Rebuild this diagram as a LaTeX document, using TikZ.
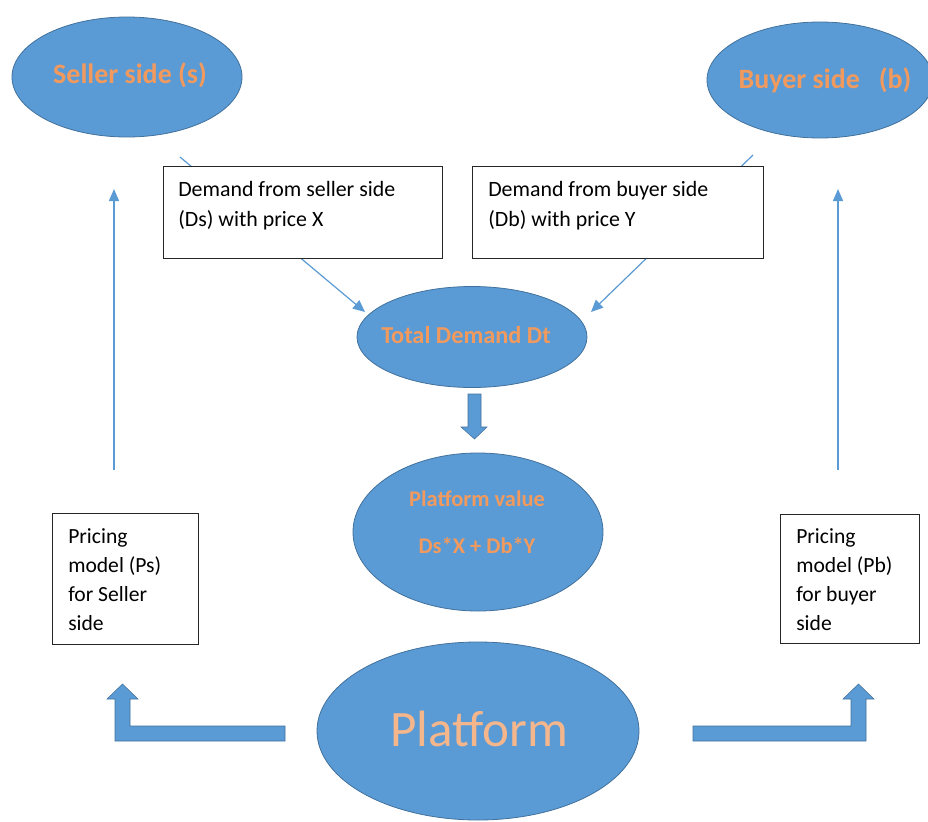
\documentclass[tikz,border=0pt]{standalone}
\usepackage{fontspec}
\setmainfont{Carlito}
\usetikzlibrary{shapes.geometric,arrows.meta,calc}
\newlength\px
\setlength\px{0.75pt}
\definecolor{fillblue}{HTML}{5B9BD5}
\definecolor{edgeblue}{HTML}{41719C}
\definecolor{txtorange}{HTML}{F29A5E}
\definecolor{lightorange}{HTML}{F6B68C}
\tikzset{
  ell/.style={ellipse, fill=fillblue, draw=edgeblue, line width=0.6pt, inner sep=0pt},
  ttl/.style={text=txtorange, font=\bfseries\fontsize{21pt}{25pt}\selectfont, inner sep=0pt},
  midttl/.style={text=txtorange, font=\bfseries\fontsize{18.25pt}{21pt}\selectfont, inner sep=0pt},
  pvttl/.style={text=txtorange, font=\bfseries\fontsize{16.8pt}{35.25pt}\selectfont, inner sep=0pt, align=center},
  bigttl/.style={text=lightorange, font=\fontsize{38.3pt}{40pt}\selectfont, inner sep=0pt},
  boxnode/.style={draw=black!85, line width=0.9pt, fill=white, anchor=north west, inner sep=0pt},
  boxtext/.style={anchor=north west, inner sep=0pt, align=left, font=\fontsize{16.4pt}{22.5pt}\selectfont},
  pricetext/.style={anchor=north west, inner sep=0pt, align=left, font=\fontsize{16.2pt}{21.8pt}\selectfont},
  thin/.style={draw=fillblue, line width=1.1pt, -{Triangle[length=9pt,width=7.5pt]}},
  block/.style={fill=fillblue, draw=edgeblue, line width=0.4pt}
}
\begin{document}
\begin{tikzpicture}[x=0.75pt,y=-0.75pt]
\useasboundingbox (0,0) rectangle (928,821);
\fill[white] (0,0) rectangle (928,821);

% free ends of the diagonal connectors
\coordinate (sEnd) at (180,157);
\coordinate (bEnd) at (753,155);

% ellipses
\node[ell, minimum width=230\px, minimum height=120\px] (seller) at (127,77) {};
\node[ttl] (sellerT) at (130,75) {Seller side (s)};
\node[ell, minimum width=226\px, minimum height=116\px] (buyer) at (820,80) {};
\node[ttl] (buyerT) at (825,80) {Buyer side~~~(b)};
\node[ell, minimum width=230\px, minimum height=101\px] (total) at (472,337) {};
\node[midttl] (totalT) at (466,335) {Total Demand Dt};
\node[ell, minimum width=250\px, minimum height=158\px] (pvalue) at (478,532) {};
\node[pvttl] (pvalueT) at (477,522) {Platform value\\Ds*X + Db*Y};
\node[ell, minimum width=322\px, minimum height=178\px] (platform) at (478,731) {};
\node[bigttl] (platformT) at (479,729) {Platform};

% diagonal arrows into Total Demand
\draw[thin, line width=0.9pt, -{Triangle[length=9pt,width=8pt]}] (sEnd) -- (365,312);
\draw[thin, line width=0.9pt, -{Triangle[length=9pt,width=8pt]}] (bEnd) -- (591,312);

% demand boxes
\node[boxnode, minimum width=279\px, minimum height=92\px] (dsbox) at (163,166) {};
\node[boxtext] (dsT) at (178,181) {Demand from seller side\\(Ds) with price X};
\node[boxnode, minimum width=291\px, minimum height=92\px] (dbbox) at (472,166) {};
\node[boxtext] (dbT) at (488,181) {Demand from buyer side\\(Db) with price Y};

% pricing boxes
\node[boxnode, minimum width=146\px, minimum height=131\px] (psbox) at (52,513) {};
\node[pricetext] (psT) at (68,528) {Pricing\\model (Ps)\\for Seller\\side};
\node[boxnode, minimum width=139\px, minimum height=129\px] (pbbox) at (780,514) {};
\node[pricetext] (pbT) at (796,528) {Pricing\\model (Pb)\\for buyer\\side};

% thin vertical arrows
\coordinate (lStart) at (114,470);
\coordinate (lTip) at (114,189);
\coordinate (rStart) at (838,470);
\coordinate (rTip) at (838,189);
\draw[thin] (lStart) -- (lTip);
\draw[thin] (rStart) -- (rTip);

% block down arrow
\path[block] (468,394) -- (481,394) -- (481,427) -- (487,427) -- (474.5,439) -- (461,427) -- (468,427) -- cycle;
% block elbow arrows
\path[block] (285,726) -- (130,726) -- (130,699) -- (138,699) -- (122.5,684) -- (107,699) -- (115,699) -- (115,741) -- (285,741) -- cycle;
\path[block] (693,726) -- (851,726) -- (851,699) -- (843,699) -- (858.5,684) -- (874,699) -- (866,699) -- (866,741) -- (693,741) -- cycle;
\end{tikzpicture}
\end{document}
